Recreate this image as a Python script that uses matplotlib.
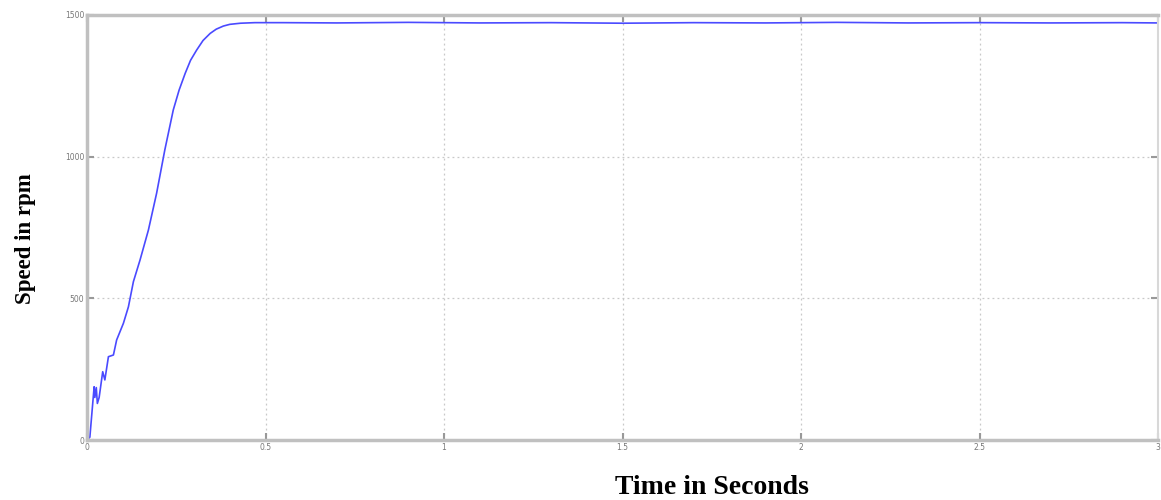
import matplotlib
matplotlib.use("Agg")
import matplotlib.pyplot as plt

# Data
time_s = [0.0, 0.008, 0.020, 0.022, 0.026, 0.029, 0.034, 0.044, 0.050, 0.060,
          0.074, 0.083, 0.102, 0.116, 0.130, 0.1485, 0.172, 0.195, 0.218,
          0.2417, 0.258, 0.275, 0.29, 0.307, 0.325, 0.345, 0.362, 0.382, 0.40,
          0.43, 0.47, 0.55, 0.7, 0.9, 1.1, 1.3, 1.5, 1.7, 1.9, 2.1, 2.3, 2.5,
          2.7, 2.9, 3.0]
speed_rpm = [0, 10, 188, 150, 185, 129, 150, 241, 212, 294,
             300, 353, 412, 470, 559, 635, 741, 871, 1024,
             1165, 1235, 1294, 1340, 1376, 1410, 1435, 1450, 1461, 1467,
             1471, 1473, 1473, 1472, 1474, 1472, 1473, 1471, 1473, 1472, 1474, 1472, 1473,
             1472, 1473, 1472]

x_ticks = [0, 0.5, 1, 1.5, 2, 2.5, 3]
x_tick_labels = ["0", "0.5", "1", "1.5", "2", "2.5", "3"]
y_ticks = [0, 500, 1000, 1500]
y_tick_labels = ["0", "500", "1000", "1500"]

fig = plt.figure(figsize=(11.61, 5.0), dpi=100)
ax = fig.add_axes([87 / 1161, 1 - 440 / 500, (1158 - 87) / 1161, (440 - 15) / 500])

ax.plot(time_s, speed_rpm, color="#4a4aff", linewidth=1.2)

ax.set_xlim(0, 3)
ax.set_ylim(0, 1500)
ax.set_xticks(x_ticks)
ax.set_xticklabels(x_tick_labels)
ax.set_yticks(y_ticks)
ax.set_yticklabels(y_tick_labels)

ax.grid(True, color="#c8c8c8", linestyle=(0, (1.5, 2.5)), linewidth=0.9)
ax.tick_params(axis="both", which="both", direction="in", length=5, width=1.5,
               color="#999999", labelsize=5.5, labelcolor="#777777",
               top=True, right=True, pad=2)

for side in ["left", "bottom", "top"]:
    ax.spines[side].set_color("#c0c0c0")
    ax.spines[side].set_linewidth(2.5)
ax.spines["right"].set_color("#d8d8d8")
ax.spines["right"].set_linewidth(1.5)

fig.text(712 / 1161, 1 - 487 / 500, "Time in Seconds", ha="center", va="center",
         fontsize=20, fontweight="bold", family="Liberation Serif")
fig.text(25 / 1161, 1 - 239 / 500, "Speed in rpm", ha="center", va="center",
         rotation=90, fontsize=16.5, fontweight="bold", family="Liberation Serif")

fig.savefig("out.png", dpi=100)
